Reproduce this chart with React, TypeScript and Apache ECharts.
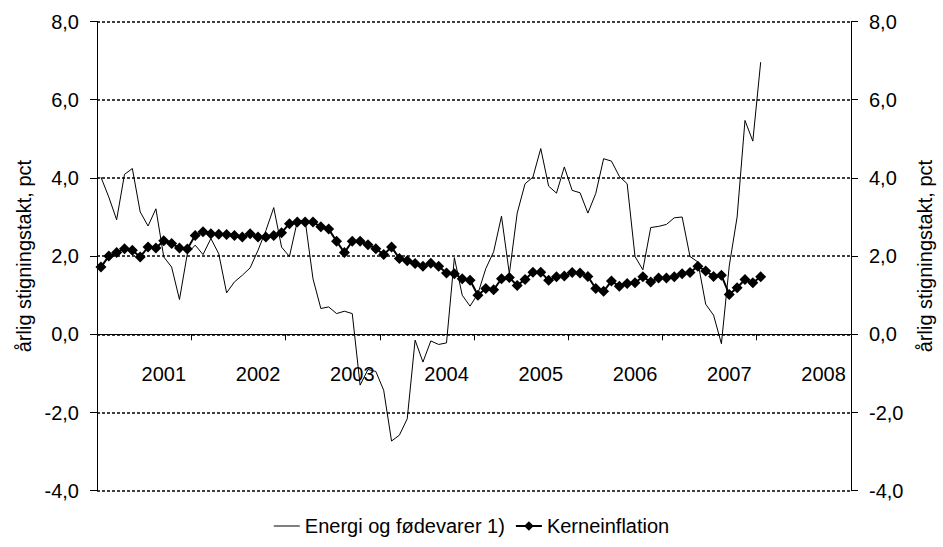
import React, { useEffect, useRef } from 'react';
import * as echarts from 'echarts';

// Monthly observations (annual rate of increase, pct)
const energy: number[] = [
  4.02, 3.51, 2.93, 4.09, 4.24, 3.13, 2.77, 3.21, 1.98, 1.72,
  0.89, 2.06, 2.28, 2.04, 2.45, 2.06, 1.06, 1.34, 1.51, 1.70,
  2.15, 2.65, 3.24, 2.23, 1.99, 2.89, 2.92, 1.42, 0.66, 0.70,
  0.53, 0.59, 0.53, -1.30, -0.90, -0.95, -1.43, -2.73, -2.58, -2.16,
  -0.15, -0.71, -0.17, -0.26, -0.22, 1.96, 1.00, 0.72, 1.04, 1.68,
  2.11, 3.02, 1.55, 3.10, 3.85, 4.02, 4.75, 3.79, 3.61, 4.28,
  3.68, 3.62, 3.10, 3.60, 4.49, 4.43, 4.04, 3.85, 1.99, 1.65,
  2.73, 2.76, 2.81, 2.98, 3.00, 1.99, 1.85, 0.77, 0.49, -0.24,
  1.75, 3.00, 5.47, 4.94, 6.96,
];

const kerne: number[] = [
  1.72, 2.00, 2.09, 2.19, 2.15, 1.98, 2.23, 2.21, 2.39, 2.32,
  2.21, 2.18, 2.53, 2.62, 2.57, 2.56, 2.55, 2.53, 2.49, 2.57,
  2.49, 2.49, 2.53, 2.60, 2.83, 2.87, 2.87, 2.87, 2.75, 2.69,
  2.38, 2.09, 2.38, 2.38, 2.29, 2.19, 2.04, 2.23, 1.94, 1.88,
  1.81, 1.74, 1.82, 1.74, 1.57, 1.55, 1.42, 1.38, 1.00, 1.17,
  1.14, 1.42, 1.45, 1.25, 1.40, 1.59, 1.59, 1.38, 1.47, 1.49,
  1.58, 1.57, 1.48, 1.17, 1.10, 1.36, 1.23, 1.30, 1.32, 1.47,
  1.34, 1.44, 1.44, 1.47, 1.55, 1.58, 1.74, 1.62, 1.48, 1.51,
  1.02, 1.19, 1.40, 1.32, 1.47,
];

const yearLabels: string[] = ['2001', '2002', '2003', '2004', '2005', '2006', '2007', '2008'];

// 96 monthly categories, Dec 2000 .. Nov 2008
const months: string[] = Array.from({ length: 96 }, (_, i) => {
  const m = ((11 + i) % 12) + 1;
  const y = 2000 + Math.floor((11 + i) / 12);
  return `${y}-${String(m).padStart(2, '0')}`;
});

const seriesNames = ['Energi og fødevarer 1)', 'Kerneinflation'];
const axisName = 'årlig stigningstakt, pct';

const Y_MIN = -4;
const Y_MAX = 8;
const Y_STEP = 2;

export default function App() {
  const ref = useRef<HTMLDivElement>(null);

  useEffect(() => {
    const chart = echarts.init(ref.current!, null, { renderer: 'svg' });
    const fontFamily = '"Liberation Sans", Arial, sans-serif';
    const fontSize = 20;

    const H = 547;
    const gridTop = 21.5;
    const gridBottom = 56.3;
    const gridHeight = H - gridTop - gridBottom;
    // move the category axis up to the value 0 line
    const zeroOffset = -gridHeight * ((0 - Y_MIN) / (Y_MAX - Y_MIN));

    const yAxisBase = (position: 'left' | 'right', gap: number, grid: boolean) => ({
      type: 'value',
      position,
      min: Y_MIN,
      max: Y_MAX,
      interval: Y_STEP,
      name: axisName,
      nameLocation: 'middle',
      nameRotate: 90,
      nameGap: gap,
      nameTextStyle: { fontFamily, fontSize, color: '#000' },
      axisLine: { show: true, onZero: false, lineStyle: { color: '#000', width: 1 } },
      axisTick: { show: true, inside: false, length: 7, lineStyle: { color: '#000' } },
      axisLabel: {
        margin: 18,
        fontFamily,
        fontSize,
        color: '#000',
        formatter: (v: number) => v.toFixed(1).replace('.', ','),
      },
      splitLine: grid
        ? { show: true, lineStyle: { color: '#000', type: [3, 2], width: 1.5 } }
        : { show: false },
    });

    chart.setOption({
      animation: false,
      backgroundColor: '#fff',
      grid: { left: 97, right: 88, top: gridTop, bottom: gridBottom, containLabel: false },
      legend: {
        bottom: 6,
        left: 'center',
        itemWidth: 26,
        itemHeight: 12,
        itemGap: 10,
        textStyle: { fontFamily, fontSize, color: '#000' },
        data: [
          { name: seriesNames[0], icon: 'path://M0,0 L26,0 L26,1 L0,1 Z' },
          { name: seriesNames[1] },
        ],
      },
      xAxis: {
        type: 'category',
        data: months,
        boundaryGap: true,
        position: 'bottom',
        offset: zeroOffset,
        axisLine: { onZero: false, lineStyle: { color: '#000', width: 1 } },
        axisTick: {
          show: true,
          length: 6,
          interval: (idx: number) => idx % 12 === 0,
          lineStyle: { color: '#000' },
        },
        axisLabel: {
          margin: 30,
          fontFamily,
          fontSize,
          color: '#000',
          interval: (idx: number) => idx % 12 === 8,
          formatter: (_v: string, idx: number) => yearLabels[Math.round((idx - 8) / 12)] ?? '',
        },
        splitLine: { show: false },
      },
      yAxis: [yAxisBase('left', 62, true), yAxisBase('right', 64, false)],
      series: [
        {
          name: seriesNames[0],
          type: 'line',
          data: energy,
          symbol: 'none',
          lineStyle: { color: '#000', width: 1 },
          itemStyle: { color: '#000' },
          z: 3,
        },
        {
          name: seriesNames[1],
          type: 'line',
          data: kerne,
          symbol: 'diamond',
          symbolSize: 11,
          showAllSymbol: true,
          lineStyle: { color: '#000', width: 2 },
          itemStyle: { color: '#000' },
          z: 4,
        },
      ],
    });

    return () => chart.dispose();
  }, []);

  return (
    <div
      ref={ref}
      style={{ position: 'fixed', left: 0, top: 0, width: 943, height: 547, background: '#fff' }}
    />
  );
}
